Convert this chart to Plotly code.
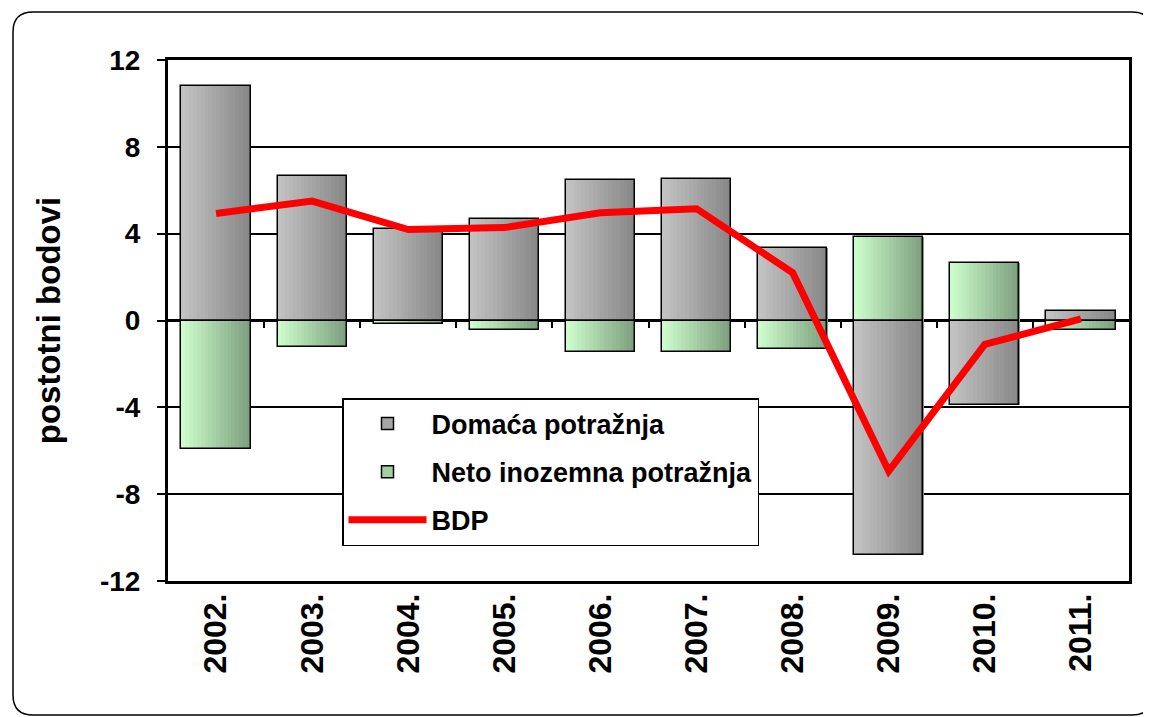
import plotly.graph_objects as go

years = ["2002.", "2003.", "2004.", "2005.", "2006.", "2007.", "2008.", "2009.", "2010.", "2011."]
domaca = [10.8, 6.64, 4.22, 4.68, 6.45, 6.54, 3.32, -10.78, -3.87, 0.46]
neto = [-5.9, -1.2, -0.18, -0.46, -1.47, -1.46, -1.29, 3.86, 2.66, -0.46]
bdp = [4.93, 5.5, 4.19, 4.28, 4.96, 5.15, 2.2, -6.94, -1.1, 0.08]
y_ticks = [-12, -8, -4, 0, 4, 8, 12]
y_ticktext = ["-12", "-8", "-4", "0", "4", "8", "12"]

names = ["Domaća potražnja", "Neto inozemna potražnja", "BDP"]

# page has an 8px body margin; work in page pixel coordinates minus that
OFF = 8
W_FIG, H_FIG = 1151 - OFF, 717 - OFF
ML, MT = 168 - OFF, 60 - OFF
PW = 1129 - 168
PH = 581 - 60
MR = W_FIG - ML - PW
MB = H_FIG - MT - PH

xs = list(range(len(years)))
BAR_W = 0.72
N = 18

def lerp(c1, c2, t):
    return "rgb(%d,%d,%d)" % tuple(round(a + (b - a) * t) for a, b in zip(c1, c2))

grey_l, grey_r = (194, 194, 194), (136, 136, 136)
green_l, green_r = (204, 252, 204), (126, 160, 126)

FONT = "Liberation Sans, Arial, sans-serif"

fig = go.Figure()

# legend-only entries
fig.add_trace(go.Bar(x=[None], y=[None], name=names[0], legendgroup="a",
                     marker=dict(color=lerp(grey_l, grey_r, 0.5), line=dict(color="black", width=1.5))))
fig.add_trace(go.Bar(x=[None], y=[None], name=names[1], legendgroup="b",
                     marker=dict(color=lerp(green_l, green_r, 0.5), line=dict(color="black", width=1.5))))

# gradient slices
for series, cl, cr in ((domaca, grey_l, grey_r), (neto, green_l, green_r)):
    for i in range(N):
        t = i / (N - 1)
        fig.add_trace(go.Bar(
            x=xs, y=series, width=BAR_W / N * 1.08,
            offset=-BAR_W / 2 + i * BAR_W / N,
            marker=dict(color=lerp(cl, cr, t), line=dict(width=0)),
            showlegend=False, hoverinfo="skip"))

# outlines
for series in (domaca, neto):
    fig.add_trace(go.Bar(
        x=xs, y=series, width=BAR_W, offset=-BAR_W / 2,
        marker=dict(color="rgba(0,0,0,0)", line=dict(color="black", width=1.5)),
        showlegend=False))

# GDP line
fig.add_trace(go.Scatter(x=xs, y=bdp, mode="lines", name=names[2], legendgroup="c",
                         xaxis="x2", yaxis="y",
                         line=dict(color="#ff0000", width=7)))

def px(x):
    return (x - OFF - ML) / PW

def py(y):
    return (MT + PH - (y - OFF)) / PH

# rounded outer frame (page pixel coords)
x0, y0, x1, y1, r = 13, 12, 1152, 715, 20
path = (f"M {px(x0 + r)},{py(y0)} L {px(x1 - r)},{py(y0)} "
        f"Q {px(x1)},{py(y0)} {px(x1)},{py(y0 + r)} "
        f"L {px(x1)},{py(y1 - r)} Q {px(x1)},{py(y1)} {px(x1 - r)},{py(y1)} "
        f"L {px(x0 + r)},{py(y1)} Q {px(x0)},{py(y1)} {px(x0)},{py(y1 - r)} "
        f"L {px(x0)},{py(y0 + r)} Q {px(x0)},{py(y0)} {px(x0 + r)},{py(y0)} Z")

fig.update_layout(
    width=W_FIG, height=H_FIG,
    margin=dict(l=ML, r=MR, t=MT, b=MB),
    paper_bgcolor="white", plot_bgcolor="white",
    barmode="overlay", bargap=0,
    font=dict(family=FONT, color="black", weight="bold"),
    shapes=[dict(type="path", path=path, xref="paper", yref="paper",
                 line=dict(color="black", width=1.5), layer="below")],
    xaxis=dict(range=[-0.5, len(years) - 0.5], tickmode="array", tickvals=xs, ticktext=years,
               tickangle=-90, tickfont=dict(size=32, family=FONT, weight="bold"),
               showgrid=False, zeroline=False, showline=True, linecolor="black",
               linewidth=2.5, mirror=True, ticks="", fixedrange=True,
               ticklabelstandoff=-3),
    xaxis2=dict(range=[-0.5, len(years) - 0.5], overlaying="x", anchor="free", position=0.5,
                side="bottom", tickmode="array", tickvals=[i + 0.5 for i in xs[:-1]],
                ticks="outside", ticklen=6, tickwidth=1.5, tickcolor="black",
                showticklabels=False, showgrid=False, zeroline=False, showline=False),
    yaxis=dict(range=[-12, 12], tickmode="array", tickvals=y_ticks, ticktext=y_ticktext,
               tickfont=dict(size=28, family=FONT, weight="bold"),
               showgrid=True, gridcolor="black", gridwidth=1.5,
               zeroline=True, zerolinecolor="black", zerolinewidth=3,
               showline=True, linecolor="black", linewidth=3, mirror=True,
               ticks="outside", ticklen=8, tickwidth=1.5, tickcolor="black",
               ticklabelstandoff=11,
               title=dict(text="postotni bodovi", font=dict(size=33, family=FONT, weight="bold"),
                          standoff=30)),
    legend=dict(x=px(342), y=py(398), xanchor="left", yanchor="top",
                bgcolor="white", bordercolor="black", borderwidth=1.5,
                font=dict(size=27, family=FONT, weight="bold"),
                itemwidth=78, tracegroupgap=10, traceorder="grouped"),
    showlegend=True,
)

fig.write_html("out.html")
